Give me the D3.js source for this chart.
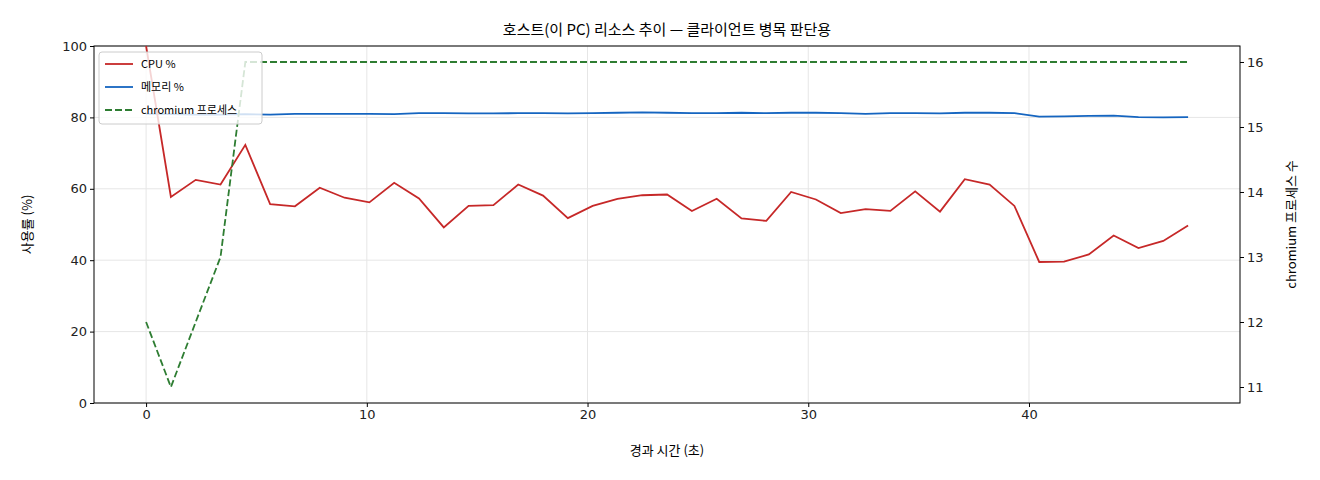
<!DOCTYPE html>
<html><head><meta charset="utf-8">
<script src="https://cdn.jsdelivr.net/npm/d3@7"></script>
<style>body{margin:0;background:#fff;font-family:"Noto Sans CJK KR","DejaVu Sans",sans-serif}</style>
</head><body><svg id="c" width="1320" height="480"></svg>
<script>
const step = 1.124;
const cpu = [100,57.7,62.5,61.2,72.3,55.7,55.1,60.3,57.5,56.2,61.7,57.3,49.2,55.2,55.4,61.2,58.1,51.8,55.2,57.2,58.2,58.4,53.8,57.2,51.7,51.0,59.1,57.0,53.2,54.3,53.8,59.3,53.6,62.7,61.2,55.2,39.5,39.6,41.6,46.9,43.4,45.4,49.7];
const mem = [81.0,80.9,80.8,80.8,80.9,80.8,81.0,81.0,81.0,81.0,80.9,81.2,81.2,81.1,81.1,81.2,81.2,81.1,81.2,81.3,81.4,81.3,81.2,81.2,81.3,81.2,81.3,81.3,81.2,81.0,81.2,81.2,81.1,81.3,81.3,81.2,80.2,80.3,80.4,80.5,80.1,80.0,80.1];
const chrom = [12,11,12,13,16,16,16,16,16,16,16,16,16,16,16,16,16,16,16,16,16,16,16,16,16,16,16,16,16,16,16,16,16,16,16,16,16,16,16,16,16,16,16];
const times = cpu.map((_, i) => i * step);
const xTicks = [0,10,20,30,40], yTicks = [0,20,40,60,80,100], y2Ticks = [11,12,13,14,15,16];

const svg = d3.select("#c");
const L=94,R=1240,T=46,B=403;
const x = d3.scaleLinear().domain([-2.36,49.56]).range([L,R]);
const y = d3.scaleLinear().domain([0,100]).range([B,T]);
const y2 = d3.scaleLinear().domain([10.754,16.246]).range([B,T]);
const g = svg.append("g");
g.selectAll(".gx").data(xTicks).join("line").attr("x1",d=>x(d)).attr("x2",d=>x(d)).attr("y1",T).attr("y2",B).attr("stroke","#e6e6e6");
g.selectAll(".gy").data(yTicks).join("line").attr("y1",d=>y(d)).attr("y2",d=>y(d)).attr("x1",L).attr("x2",R).attr("stroke","#e6e6e6");
const ax = svg.append("g").attr("transform",`translate(0,${B})`).call(d3.axisBottom(x).tickValues(xTicks).tickSize(4));
const ay = svg.append("g").attr("transform",`translate(${L},0)`).call(d3.axisLeft(y).tickValues(yTicks).tickSize(4));
const ay2 = svg.append("g").attr("transform",`translate(${R},0)`).call(d3.axisRight(y2).tickValues(y2Ticks).tickFormat(d3.format("d")).tickSize(4));
[ax,ay,ay2].forEach(a=>{a.select(".domain").remove();a.selectAll("text").attr("font-size",13).attr("fill","#222").attr("font-family","DejaVu Sans")});
svg.append("rect").attr("x",L).attr("y",T).attr("width",R-L).attr("height",B-T).attr("fill","none").attr("stroke","#000");
const line = (arr, sc) => d3.line().x((d,i)=>x(times[i])).y(d=>sc(d))(arr);
svg.append("path").attr("d",line(mem,y)).attr("fill","none").attr("stroke","#1565c0").attr("stroke-width",1.8);
svg.append("path").attr("d",line(cpu,y)).attr("fill","none").attr("stroke","#c62828").attr("stroke-width",1.8);
svg.append("path").attr("d",line(chrom,y2)).attr("fill","none").attr("stroke","#2e7d32").attr("stroke-width",1.8).attr("stroke-dasharray","7,3");
svg.append("text").attr("x",(L+R)/2).attr("y",35).attr("text-anchor","middle").attr("font-size",15).text("호스트(이 PC) 리소스 추이 — 클라이언트 병목 판단용");
svg.append("text").attr("x",(L+R)/2).attr("y",455).attr("text-anchor","middle").attr("font-size",13).text("경과 시간 (초)");
svg.append("text").attr("transform",`translate(32,${(T+B)/2}) rotate(-90)`).attr("text-anchor","middle").attr("font-size",13).text("사용률 (%)");
svg.append("text").attr("transform",`translate(1296,${(T+B)/2}) rotate(-90)`).attr("text-anchor","middle").attr("font-size",13).text("chromium 프로세스 수");
const lg = svg.append("g").attr("transform","translate(99,52)");
lg.append("rect").attr("width",163).attr("height",72).attr("rx",3).attr("fill","#fff").attr("fill-opacity",0.8).attr("stroke","#ccc");
[["CPU %","#c62828",null],["메모리 %","#1565c0",null],["chromium 프로세스","#2e7d32","7,3"]].forEach((d,i)=>{
  const yy=12+i*23;
  lg.append("line").attr("x1",6).attr("x2",34).attr("y1",yy).attr("y2",yy).attr("stroke",d[1]).attr("stroke-width",1.8).attr("stroke-dasharray",d[2]);
  lg.append("text").attr("x",42).attr("y",yy+4).attr("font-size",11).text(d[0]);
});
</script></body></html>
